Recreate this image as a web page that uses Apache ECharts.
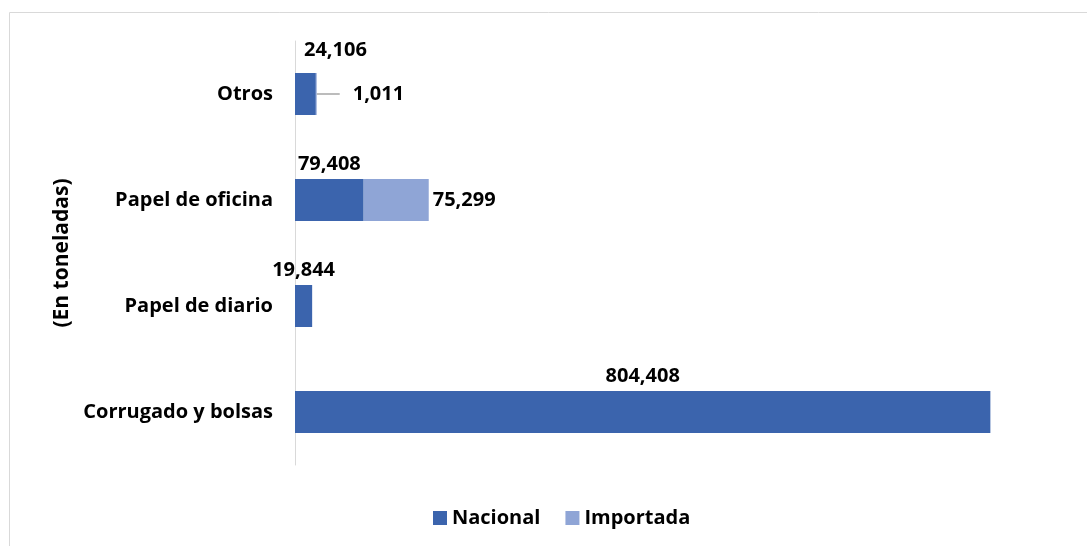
<!DOCTYPE html>
<html>
<head>
<meta charset="utf-8">
<script src="https://cdn.jsdelivr.net/npm/echarts@6/dist/echarts.min.js"></script>
<style>html,body{margin:0;padding:0;background:#fff}#c{width:1087px;height:546px}</style>
</head>
<body>
<div id="c"></div>
<script>
var categories = ['Corrugado y bolsas', 'Papel de diario', 'Papel de oficina', 'Otros'];
var nacional = [804408, 19844, 79408, 24106];
var importada = [null, null, 75299, 1011];
var seriesNames = ['Nacional', 'Importada'];
var axisName = '(En toneladas)';

var FONT = 'Open Sans';
var chart = echarts.init(document.getElementById('c'));
var fmt = function (v) { return v == null ? '' : v.toLocaleString('en-US'); };

var nacData = nacional.map(function (v, i) {
  var d = { value: v };
  if (i === 3) d.label = { offset: [30, -8] };
  return d;
});
var impData = importada.map(function (v, i) {
  var d = { value: v };
  if (i === 3) {
    d.label = { padding: [0, 0, 0, 13], backgroundColor: 'rgba(255,255,255,0.01)' };
    d.labelLine = { show: true, lineStyle: { color: '#a6a6a6', width: 1.5 } };
  }
  return d;
});

chart.setOption({
  animation: false,
  graphic: [{
    type: 'rect', silent: true,
    shape: { x: 9.5, y: 12.5, width: 1200, height: 700 },
    style: { fill: 'none', stroke: '#d9d9d9', lineWidth: 1 }
  }],
  legend: {
    bottom: 13, left: 428, itemWidth: 14, itemHeight: 14, itemGap: 25,
    icon: 'rect',
    textStyle: { fontFamily: FONT, fontWeight: 'bold', fontSize: 20, color: '#000' },
    data: seriesNames
  },
  grid: { left: 295, top: 41, height: 424, right: 14 },
  xAxis: { type: 'value', min: 0, max: 900000, show: false },
  yAxis: {
    type: 'category', data: categories,
    name: axisName, nameLocation: 'middle', nameGap: 220, nameRotate: 90,
    nameTextStyle: { fontFamily: FONT, fontWeight: 'bold', fontSize: 21, color: '#000' },
    axisLine: { show: true, lineStyle: { color: '#d9d9d9', width: 1 } },
    axisTick: { show: false },
    axisLabel: { fontFamily: FONT, fontWeight: 'bold', fontSize: 20, color: '#000', margin: 22 }
  },
  series: [{
    name: seriesNames[0], type: 'bar', stack: 'a', barWidth: 42,
    data: nacData,
    itemStyle: { color: '#3b64ad' },
    label: { show: true, position: 'top', distance: 5, formatter: function (p) { return fmt(p.value); },
      fontFamily: FONT, fontWeight: 'bold', fontSize: 20, color: '#000' }
  }, {
    name: seriesNames[1], type: 'bar', stack: 'a', barWidth: 42,
    data: impData,
    itemStyle: { color: '#8fa5d6' },
    label: { show: true, position: 'right', distance: 4, formatter: function (p) { return fmt(p.value); },
      fontFamily: FONT, fontWeight: 'bold', fontSize: 20, color: '#000' },
    labelLayout: function (p) { if (p.dataIndex === 3) return { dx: 19 }; return {}; }
  }]
});
</script>
</body>
</html>
